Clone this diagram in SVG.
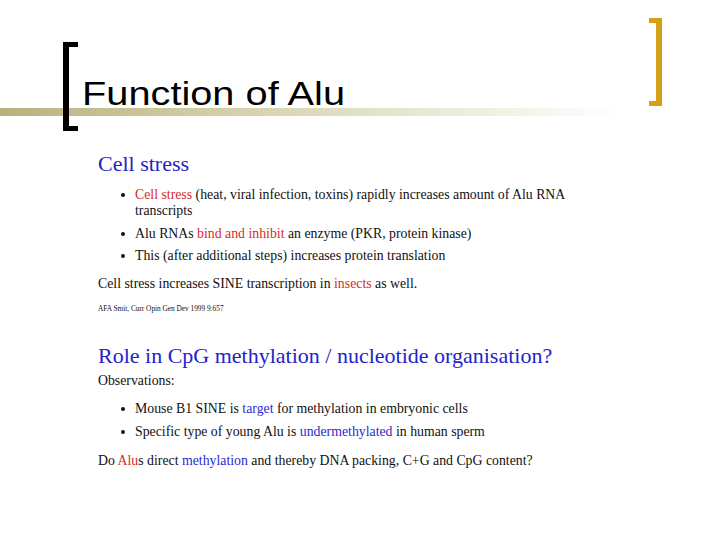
<svg xmlns="http://www.w3.org/2000/svg" width="720" height="540" viewBox="0 0 720 540">
<defs>
<linearGradient id="g" x1="0" x2="1" y1="0" y2="0">
<stop offset="0" stop-color="#b8b27a"/><stop offset="0.6" stop-color="#e4e2c8"/><stop offset="1" stop-color="#ffffff"/>
</linearGradient>
<style>
.t{font-family:"Liberation Serif",serif;font-size:13.8px;fill:#111}
.h{font-family:"Liberation Serif",serif;font-size:22px;fill:#2323c8}
.r{fill:#d62a2a}.b{fill:#2a2ad0}
</style>
</defs>
<rect width="720" height="540" fill="#fff"/>
<rect x="0" y="108" width="620" height="8" fill="url(#g)"/>
<g id="leftBracket" fill="#000"><rect x="63" y="42" width="6" height="89"/><rect x="63" y="42" width="15" height="5"/><rect x="63" y="126" width="15" height="5"/></g>
<g id="rightBracket" fill="#d4a017"><rect x="656" y="18" width="6" height="88"/><rect x="649" y="18" width="13" height="5"/><rect x="649" y="101" width="13" height="5"/></g>
<text x="82" y="105" font-family="'Liberation Sans',Arial,sans-serif" font-size="34" fill="#000" textLength="263" lengthAdjust="spacingAndGlyphs">Function of Alu</text>
<text class="h" x="98" y="171">Cell stress</text>
<g class="t">
<circle cx="123" cy="195" r="2" fill="#111"/><circle cx="123" cy="234" r="2" fill="#111"/><circle cx="123" cy="256" r="2" fill="#111"/>
<text x="135" y="199"><tspan class="r">Cell stress</tspan> (heat, viral infection, toxins) rapidly increases amount of Alu RNA</text>
<text x="135" y="215">transcripts</text>
<text x="135" y="238">Alu RNAs <tspan class="r">bind and inhibit</tspan> an enzyme (PKR, protein kinase)</text>
<text x="135" y="260">This (after additional steps) increases protein translation</text>
<text x="98" y="288">Cell stress increases SINE transcription in <tspan class="r">insects</tspan> as well.</text>
<text x="98" y="311" font-size="7.3">AFA Smit, Curr Opin Gen Dev 1999 9:657</text>
</g>
<text class="h" x="98" y="363">Role in CpG methylation / nucleotide organisation?</text>
<g class="t">
<text x="98" y="385">Observations:</text>
<circle cx="123" cy="409" r="2" fill="#111"/><circle cx="123" cy="432" r="2" fill="#111"/>
<text x="135" y="413">Mouse B1 SINE is <tspan class="b">target</tspan> for methylation in embryonic cells</text>
<text x="135" y="436">Specific type of young Alu is <tspan class="b">undermethylated</tspan> in human sperm</text>
<text x="98" y="465">Do <tspan class="r">Alu</tspan>s direct <tspan class="b">methylation</tspan> and thereby DNA packing, C+G and CpG content?</text>
</g>
</svg>
